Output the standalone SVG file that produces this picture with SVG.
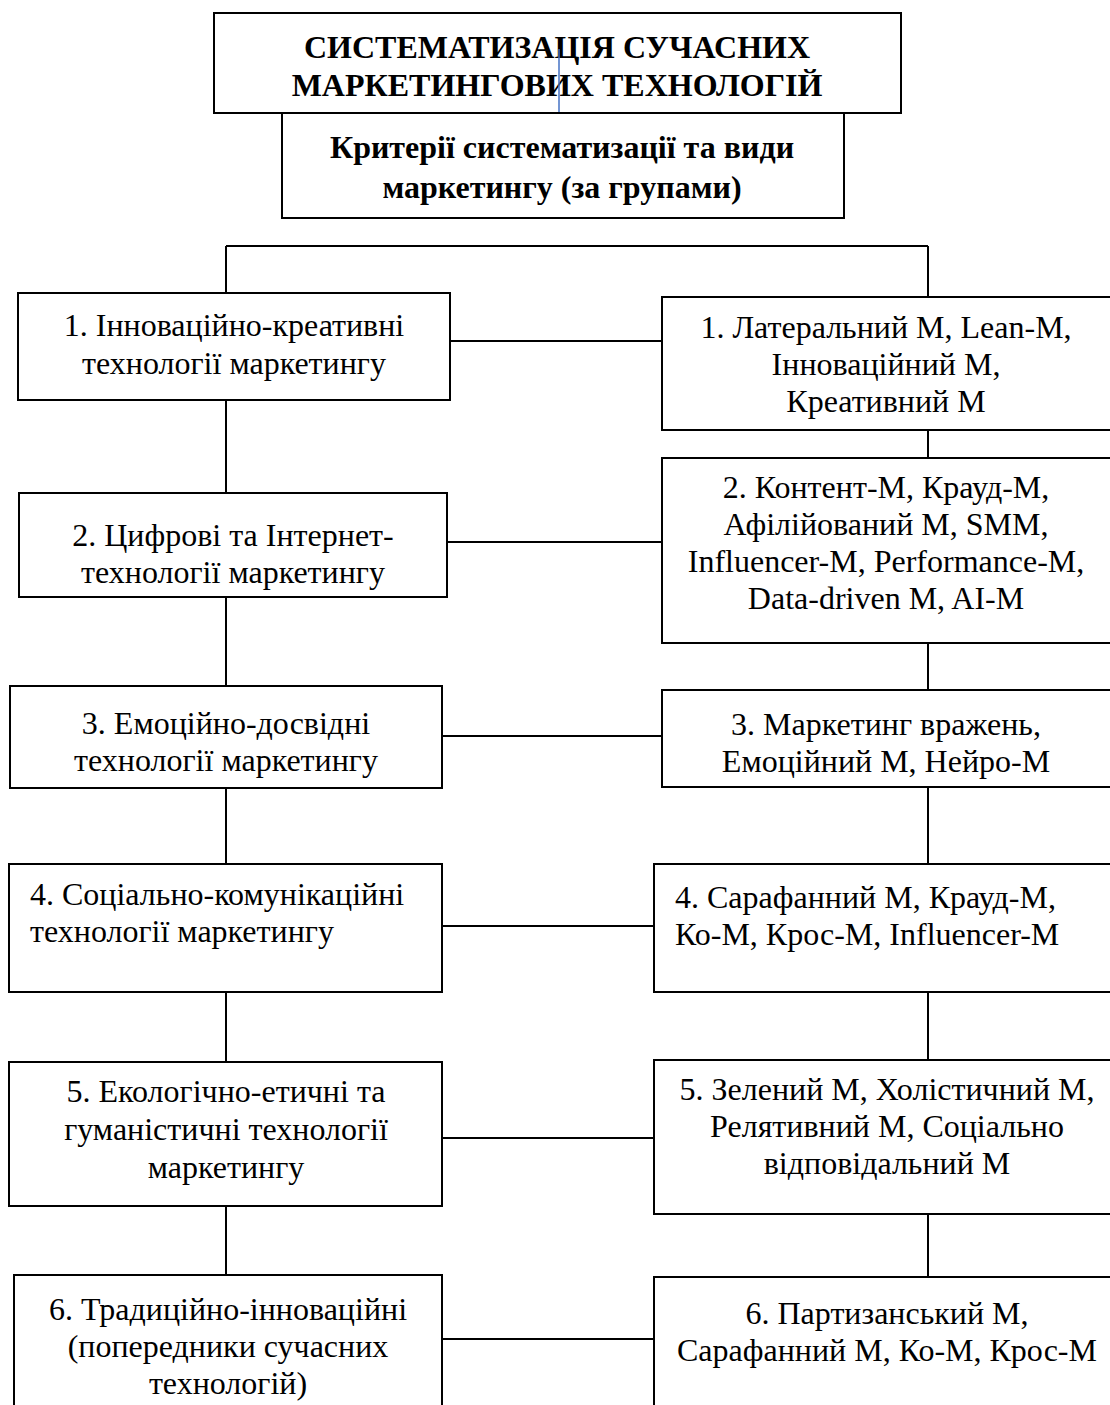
<svg xmlns="http://www.w3.org/2000/svg" width="1110" height="1405" viewBox="0 0 1110 1405">
<style>
.box{fill:#fff;stroke:#000;stroke-width:2}
.ln{stroke:#000;stroke-width:2;fill:none}
.t{font-family:"Liberation Serif","Times New Roman",serif;font-size:32px;fill:#000;text-anchor:middle}
.tl{font-family:"Liberation Serif","Times New Roman",serif;font-size:32px;fill:#000;text-anchor:start}
.b{font-weight:bold}
</style>
<rect width="1110" height="1405" fill="#fff"/>
<g id="connectors">
<path class="ln" d="M226 246H928M226 246V293M928 246V297"/>
<path class="ln" d="M226 400V493M226 597V686M226 788V864M226 992V1062M226 1206V1275"/>
<path class="ln" d="M928 430V458M928 643V690M928 787V864M928 992V1060M928 1214V1277"/>
<path class="ln" d="M450 341H662M447 542H662M442 736H662M442 926H654M442 1138H654M442 1339H654"/>
</g>
<g id="title">
<rect class="box" x="214" y="13" width="687" height="100"/>
<text class="t b" x="557" y="58">СИСТЕМАТИЗАЦІЯ СУЧАСНИХ</text>
<text class="t b" x="557" y="96">МАРКЕТИНГОВИХ ТЕХНОЛОГІЙ</text>
<line x1="559" y1="49" x2="559" y2="113" stroke="#4472C4" stroke-width="1.5"/>
</g>
<g id="subtitle">
<rect class="box" x="282" y="113" width="562" height="105"/>
<text class="t b" x="562" y="158">Критерії систематизації та види</text>
<text class="t b" x="562" y="198">маркетингу (за групами)</text>
</g>
<g id="L1">
<rect class="box" x="18" y="293" width="432" height="107"/>
<text class="t" x="234" y="336">1. Інноваційно-креативні</text>
<text class="t" x="234" y="374">технології маркетингу</text>
</g>
<g id="R1">
<rect class="box" x="662" y="297" width="460" height="133"/>
<text class="t" x="886" y="338">1. Латеральний М, Lean-M,</text>
<text class="t" x="886" y="375">Інноваційний М,</text>
<text class="t" x="886" y="412">Креативний М</text>
</g>
<g id="L2">
<rect class="box" x="19" y="493" width="428" height="104"/>
<text class="t" x="233" y="546">2. Цифрові та Інтернет-</text>
<text class="t" x="233" y="583">технології маркетингу</text>
</g>
<g id="R2">
<rect class="box" x="662" y="458" width="460" height="185"/>
<text class="t" x="886" y="498">2. Контент-М, Крауд-М,</text>
<text class="t" x="886" y="535">Афілійований М, SMM,</text>
<text class="t" x="886" y="572">Influencer-M, Performance-M,</text>
<text class="t" x="886" y="609">Data-driven M, AI-M</text>
</g>
<g id="L3">
<rect class="box" x="10" y="686" width="432" height="102"/>
<text class="t" x="226" y="734">3. Емоційно-досвідні</text>
<text class="t" x="226" y="771">технології маркетингу</text>
</g>
<g id="R3">
<rect class="box" x="662" y="690" width="460" height="97"/>
<text class="t" x="886" y="735">3. Маркетинг вражень,</text>
<text class="t" x="886" y="772">Емоційний М, Нейро-М</text>
</g>
<g id="L4">
<rect class="box" x="9" y="864" width="433" height="128"/>
<text class="tl" x="30" y="905">4. Соціально-комунікаційні</text>
<text class="tl" x="30" y="942">технології маркетингу</text>
</g>
<g id="R4">
<rect class="box" x="654" y="864" width="468" height="128"/>
<text class="tl" x="675" y="908">4. Сарафанний М, Крауд-М,</text>
<text class="tl" x="675" y="945">Ко-М, Крос-М, Influencer-M</text>
</g>
<g id="L5">
<rect class="box" x="9" y="1062" width="433" height="144"/>
<text class="t" x="226" y="1102">5. Екологічно-етичні та</text>
<text class="t" x="226" y="1140">гуманістичні технології</text>
<text class="t" x="226" y="1178">маркетингу</text>
</g>
<g id="R5">
<rect class="box" x="654" y="1060" width="468" height="154"/>
<text class="t" x="887" y="1100">5. Зелений М, Холістичний М,</text>
<text class="t" x="887" y="1137">Релятивний М, Соціально</text>
<text class="t" x="887" y="1174">відповідальний М</text>
</g>
<g id="L6">
<rect class="box" x="14" y="1275" width="428" height="140"/>
<text class="t" x="228" y="1320">6. Традиційно-інноваційні</text>
<text class="t" x="228" y="1357">(попередники сучасних</text>
<text class="t" x="228" y="1394">технологій)</text>
</g>
<g id="R6">
<rect class="box" x="654" y="1277" width="468" height="140"/>
<text class="t" x="887" y="1324">6. Партизанський М,</text>
<text class="t" x="887" y="1361">Сарафанний М, Ко-М, Крос-М</text>
</g>
</svg>
